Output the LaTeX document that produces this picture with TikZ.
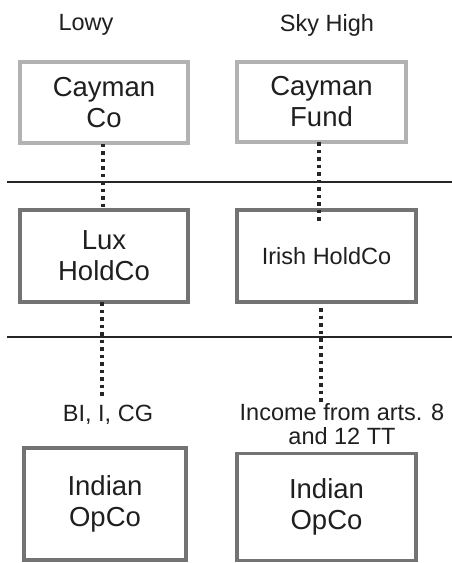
\documentclass[tikz,border=0pt]{standalone}
\usepackage{fontspec}
\setmainfont{Liberation Sans}
\begin{document}
\begin{tikzpicture}[x=1pt,y=-1pt,
  entity/.style={draw, line width=3.2pt, rectangle, align=center, text=black!88,
    inner sep=0pt, font=\fontsize{27.5}{31}\selectfont},
  lightbox/.style={entity, draw=black!30},
  darkbox/.style={entity, draw=black!55},
  heading/.style={text=black!88, font=\fontsize{23.5}{27}\selectfont},
  flowlabel/.style={text=black!88, align=center, inner sep=0pt, font=\fontsize{23.5}{24}\selectfont},
  dotline/.style={line width=3.5pt, draw=black!85, dash pattern=on 3.5pt off 4pt},
  divider/.style={line width=1.3pt, draw=black!85}]
\useasboundingbox (0,0) rectangle (452,563);
\fill[white] (0,0) rectangle (452,563);

% column headings
\node[heading] (lowy) at (86,25) {Lowy};
\node[heading] (sky) at (327,25) {Sky High};

% tier separators
\coordinate (d1a) at (7,182);  \coordinate (d1b) at (452,182);
\coordinate (d2a) at (7,337);  \coordinate (d2b) at (452,337);
\draw[divider] (d1a) -- (d1b);
\draw[divider] (d2a) -- (d2b);

% entities
\node[lightbox, minimum width=168pt, minimum height=81pt] (cayco) at (104,102.5) {Cayman\\Co};
\node[lightbox, minimum width=169pt, minimum height=80pt] (cayfund) at (321.5,102) {Cayman\\Fund};
\node[darkbox, minimum width=168pt, minimum height=92pt] (lux) at (104,256) {Lux\\HoldCo};
\node[darkbox, minimum width=179pt, minimum height=92pt, font=\fontsize{23.5}{27}\selectfont] (irish) at (326.5,256) {Irish HoldCo};
\node[darkbox, minimum width=162pt, minimum height=112pt] (opcoL) at (105,504) {Indian\\OpCo};
\node[darkbox, minimum width=179pt, minimum height=107pt] (opcoR) at (326.5,507) {Indian\\OpCo};

% income labels
\node[flowlabel] (incL) at (108,415) {BI, I, CG};
\node[flowlabel] (incR) at (342,424) {Income from arts. 8\\and 12 TT};

% ownership links
\coordinate (lA) at (103,143.5);
\coordinate (lB) at (103,210);
\coordinate (lC) at (102,302);
\coordinate (lD) at (102,398);
\coordinate (rA) at (319,142);
\coordinate (rB) at (319,223);
\coordinate (rC) at (321,308);
\coordinate (rD) at (321,403);
\draw[dotline] (lA) -- (lB);
\draw[dotline] (lC) -- (lD);
\draw[dotline] (rA) -- (rB);
\draw[dotline] (rC) -- (rD);
\end{tikzpicture}
\end{document}
